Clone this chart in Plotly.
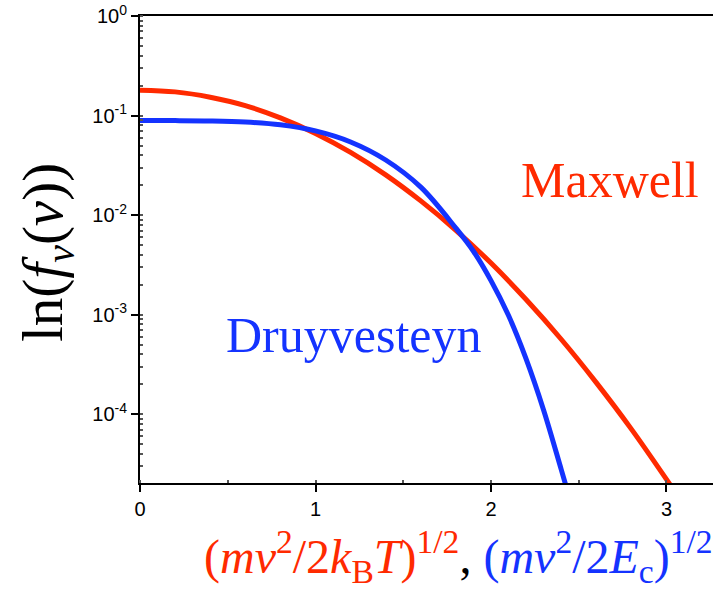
import plotly.graph_objects as go

# data
maxwell_x = [0.0, 0.2, 0.4, 0.6, 0.8, 1.0, 1.2, 1.4, 1.6, 1.8, 2.0, 2.2, 2.4, 2.6, 2.8, 3.0, 3.05]
maxwell_y = [0.18, 0.173, 0.153, 0.126, 0.0949, 0.0662, 0.0427, 0.0254, 0.0139, 0.00705,
             0.0033, 0.00142, 0.000567, 0.000208, 7.1e-5, 2.22e-5, 1.64e-5]

druy_x = [0.0, 0.2, 0.4, 0.6, 0.8, 1.0, 1.2, 1.4, 1.6, 1.8, 1.9, 2.0, 2.1, 2.2, 2.3, 2.4, 2.45]
druy_y = [0.089, 0.089, 0.0884, 0.0862, 0.0807, 0.0701, 0.0543, 0.0358, 0.0191, 0.0074,
          0.00434, 0.0022, 0.00098, 0.00036, 0.00011, 2.8e-5, 1.39e-5]

y_tickvals = [1, 0.1, 0.01, 0.001, 0.0001]
y_ticktext = ["10<sup>0</sup>", "10<sup>-1</sup>", "10<sup>-2</sup>", "10<sup>-3</sup>", "10<sup>-4</sup>"]
x_tickvals = [0, 1, 2, 3]
x_ticktext = ["0", "1", "2", "3"]

RED = "#ff2a00"
BLUE = "#1433ff"
SERIF = "Liberation Serif, Times New Roman, serif"

fig = go.Figure()
fig.add_trace(go.Scatter(x=maxwell_x, y=maxwell_y, mode="lines",
                         line=dict(color=RED, width=5, shape="spline"), showlegend=False))
fig.add_trace(go.Scatter(x=druy_x, y=druy_y, mode="lines",
                         line=dict(color=BLUE, width=5, shape="spline"), showlegend=False))

tickfont = dict(family="Liberation Sans, Arial", size=20, color="black")

W0, W1, H0, H1 = 140, 713, 16, 483


def px(x):
    return (x - W0) / (W1 - W0)


def py(y):
    return (H1 - y) / (H1 - H0)


fig.update_layout(
    width=713, height=599,
    margin=dict(l=140, r=0, t=16, b=116),
    paper_bgcolor="white", plot_bgcolor="white",
    xaxis=dict(range=[0, 3.265], tickvals=x_tickvals, ticktext=x_ticktext,
               ticks="outside", ticklen=7, tickwidth=1.5, tickcolor="black",
               showline=True, linecolor="black", linewidth=2, mirror=True,
               showgrid=False, zeroline=False, tickfont=tickfont,
               minor=dict(dtick=0.5, ticks="inside", ticklen=3, tickcolor="#555", showgrid=False)),
    yaxis=dict(type="log", range=[-4.69, 0], tickvals=y_tickvals, ticktext=y_ticktext,
               ticks="outside", ticklen=7, tickwidth=1.5, tickcolor="black",
               showline=True, linecolor="black", linewidth=2, mirror=False,
               showgrid=False, zeroline=False, tickfont=tickfont,
               minor=dict(dtick="D1", ticks="inside", ticklen=3, tickcolor="#555", showgrid=False)),
)

fig.add_annotation(text="Maxwell", xref="paper", yref="paper", x=px(610), y=py(180),
                   xanchor="center", yanchor="middle", showarrow=False,
                   font=dict(family=SERIF, size=50, color=RED))
fig.add_annotation(text="Druyvesteyn", xref="paper", yref="paper", x=px(354), y=py(335),
                   xanchor="center", yanchor="middle", showarrow=False,
                   font=dict(family=SERIF, size=50, color=BLUE))
fig.add_annotation(text="ln(<i>f</i><sub><i>v</i></sub>(<i>v</i>))", xref="paper", yref="paper",
                   x=px(47), y=py(253), xanchor="center", yanchor="middle",
                   showarrow=False, textangle=-90,
                   font=dict(family=SERIF, size=57, color="black"))
fig.add_annotation(
    text=("<span style='color:%s'>(<i>mv</i><sup>2</sup>/2<i>k</i><sub>B</sub><i>T</i>)<sup>1/2</sup></span>"
          "<span style='color:black'>, </span>"
          "<span style='color:%s'>(<i>mv</i><sup>2</sup>/2<i>E</i><sub>c</sub>)<sup>1/2</sup></span>") % (RED, BLUE),
    xref="paper", yref="paper", x=px(458), y=py(556), xanchor="center", yanchor="middle",
    showarrow=False, font=dict(family=SERIF, size=48, color="black"))

fig.write_html("out.html")
